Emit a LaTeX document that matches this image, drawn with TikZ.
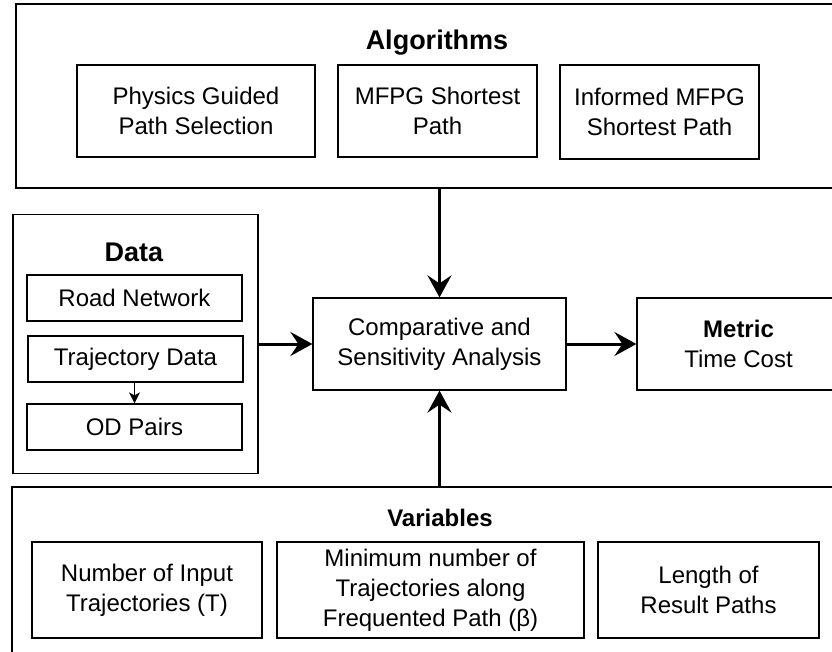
\documentclass[tikz,border=0pt]{standalone}
\usepackage{fontspec}
\setmainfont{Liberation Sans}
\usetikzlibrary{arrows.meta}
\begin{document}
\begin{tikzpicture}[x=1pt,y=-1pt,
  box/.style={draw=black, line width=1.2pt, inner sep=0pt, align=center,
    font=\fontsize{24}{30}\selectfont},
  group/.style={draw=black, line width=1.2pt, inner sep=0pt},
  bigtitle/.style={inner sep=0pt, font=\fontsize{27}{32}\selectfont\bfseries},
  midtitle/.style={inner sep=0pt, font=\fontsize{24}{30}\selectfont\bfseries},
  flow/.style={line width=3pt, -{Stealth[length=22pt,width=24pt,inset=8pt]}},
  thinflow/.style={line width=1.2pt, -{Stealth[length=11pt,width=11pt,inset=3pt]}}
]
\useasboundingbox (0,0) rectangle (832,652);
\clip (0,0) rectangle (832,652);

% Algorithms group
\node[group, minimum width=854pt, minimum height=184pt] (alg) at (443,96) {};
\node[bigtitle] (algt) at (437,43) {Algorithms};
\node[box, minimum width=238pt, minimum height=92pt] (a1) at (196,111) {Physics Guided\\Path Selection};
\node[box, minimum width=199pt, minimum height=92pt] (a2) at (437.5,111) {MFPG Shortest\\Path};
\node[box, minimum width=199pt, minimum height=94pt] (a3) at (659.5,112) {Informed MFPG\\Shortest Path};

% Data group
\node[group, minimum width=245pt, minimum height=259pt] (data) at (135.5,344) {};
\node[bigtitle] (datat) at (134,252) {Data};
\node[box, minimum width=215pt, minimum height=46pt] (road) at (134.5,298) {Road Network};
\node[box, minimum width=215pt, minimum height=46pt] (traj) at (135.5,359) {Trajectory Data};
\node[box, minimum width=215pt, minimum height=46pt] (od) at (134.5,427) {OD Pairs};
\draw[thinflow] (traj.south -| od.north) -- (od.north);

% Analysis and metric
\node[box, minimum width=253pt, minimum height=92pt] (cen) at (439.5,344) {Comparative and\\Sensitivity Analysis};
\node[box, minimum width=203pt, minimum height=92pt] (met) at (738.5,344) {\textbf{Metric}\\Time Cost};

% Variables group
\node[group, minimum width=858pt, minimum height=213pt] (var) at (441,593.5) {};
\node[midtitle] (vart) at (440,518) {Variables};
\node[box, minimum width=230pt, minimum height=96pt] (v1) at (147,590) {Number of Input\\Trajectories (T)};
\node[box, minimum width=307pt, minimum height=96pt] (v2) at (430.5,590) {Minimum number of\\Trajectories along\\Frequented Path (β)};
\node[box, minimum width=221pt, minimum height=96pt] (v3) at (708.5,590) {Length of\\Result Paths};

% Connectors
\draw[flow] (cen.north |- alg.south) -- (cen.north);
\draw[flow] (data.east) -- (cen.west);
\draw[flow] (cen.east) -- (met.west);
\draw[flow] (cen.south |- var.north) -- (cen.south);
\end{tikzpicture}
\end{document}
